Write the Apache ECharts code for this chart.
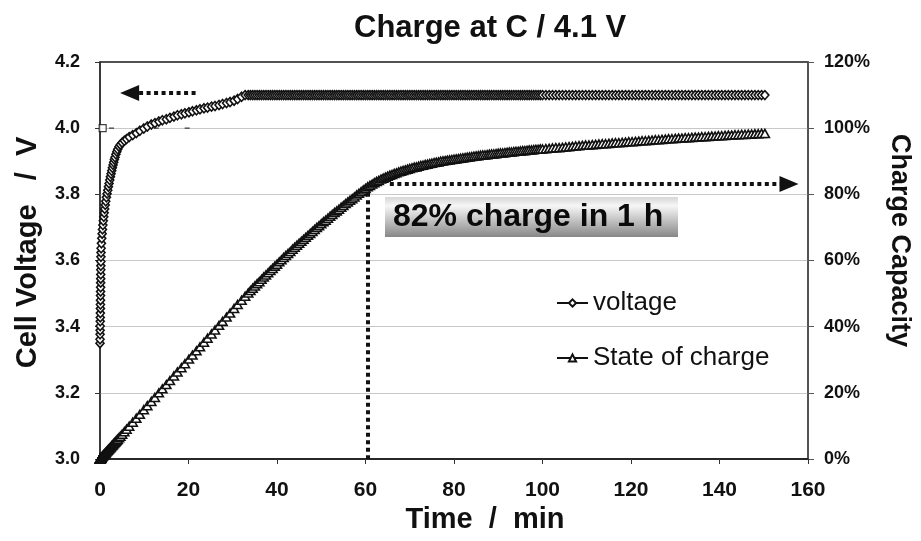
<!DOCTYPE html>
<html>
<head>
<meta charset="utf-8">
<script src="https://cdn.jsdelivr.net/npm/echarts@6/dist/echarts.min.js"></script>
<style>
  html, body { margin: 0; padding: 0; background: #fff; }
  #chart { width: 921px; height: 541px; }
</style>
</head>
<body>
<div id="chart"></div>
<script>
// Constant-current part of the charge: time (min), cell voltage (V), charge capacity (%)
const ccMinutes = [
  0, 0.01, 0.02, 0.03, 0.04, 0.05, 0.06, 0.08, 0.09, 0.10,
  0.11, 0.12, 0.13, 0.14, 0.15, 0.16, 0.17, 0.18, 0.19, 0.20,
  0.21, 0.23,
  0.25, 0.32, 0.40, 0.48, 0.56, 0.65, 0.75, 0.85, 0.95, 1.06,
  1.18, 1.30, 1.45, 1.60, 1.75, 1.90,
  2.05, 2.2, 2.35, 2.5, 2.65, 2.8, 2.95, 3.1, 3.25, 3.4,
  3.6, 3.8, 4.0, 4.3, 4.6, 5.0, 5.5, 6.0, 6.6, 7.4,
  8.2, 9.0, 9.9, 10.7, 11.6, 12.4, 13.3, 14.1, 15.0, 15.8,
  16.7, 17.5, 18.4, 19.2, 20.1, 20.9, 21.8, 22.6, 23.5, 24.3,
  25.2, 26.0, 26.9, 27.7, 28.6, 29.4, 30.3, 31.1, 32.0, 32.8
];
const ccVoltage = [
  3.350, 3.362, 3.377, 3.389, 3.402, 3.416, 3.428, 3.441, 3.455, 3.467,
  3.480, 3.494, 3.506, 3.519, 3.533, 3.545, 3.558, 3.572, 3.584, 3.597,
  3.611, 3.624,
  3.637, 3.652, 3.667, 3.681, 3.694, 3.707, 3.720, 3.732, 3.744, 3.756,
  3.768, 3.779, 3.791, 3.802, 3.812, 3.823,
  3.833, 3.843, 3.853, 3.862, 3.871, 3.880, 3.889, 3.897, 3.905, 3.912,
  3.921, 3.929, 3.936, 3.944, 3.950, 3.956, 3.962, 3.967, 3.973, 3.979,
  3.985, 3.992, 3.999, 4.005, 4.011, 4.015, 4.020, 4.024, 4.027, 4.031,
  4.035, 4.039, 4.042, 4.045, 4.048, 4.051, 4.054, 4.057, 4.060, 4.062,
  4.065, 4.067, 4.070, 4.073, 4.076, 4.079, 4.083, 4.088, 4.095, 4.100
];
const ccCharge = [
  0, 0.02, 0.03, 0.05, 0.06, 0.08, 0.09, 0.12, 0.14, 0.15,
  0.17, 0.18, 0.20, 0.21, 0.23, 0.24, 0.26, 0.27, 0.29, 0.30,
  0.32, 0.35,
  0.38, 0.48, 0.60, 0.72, 0.84, 0.98, 1.12, 1.28, 1.42, 1.59,
  1.77, 1.95, 2.18, 2.40, 2.63, 2.85,
  3.1, 3.3, 3.5, 3.75, 4.0, 4.2, 4.4, 4.65, 4.9, 5.1,
  5.4, 5.7, 6.0, 6.45, 6.9, 7.5, 8.25, 9.0, 9.9, 11.1,
  12.3, 13.5, 14.9, 16.1, 17.4, 18.6, 20.0, 21.2, 22.5, 23.7,
  25.1, 26.3, 27.6, 28.8, 30.2, 31.4, 32.7, 33.9, 35.3, 36.5,
  37.8, 39.0, 40.4, 41.6, 42.9, 44.1, 45.5, 46.7, 48.0, 49.2
];

// Constant-voltage hold at 4.1 V
const cvMinutes = [
  33.5, 34, 34.5, 35, 35.5, 36, 36.5, 37, 37.5, 38,
  38.5, 39, 39.5, 40, 40.5, 41, 41.5, 42, 42.5, 43,
  43.5, 44, 44.5, 45, 45.5, 46, 46.5, 47, 47.5, 48,
  48.5, 49, 49.5, 50, 50.5, 51, 51.5, 52, 52.5, 53,
  53.5, 54, 54.5, 55, 55.5, 56, 56.5, 57, 57.5, 58,
  58.5, 59, 59.5, 60, 60.5, 61, 61.5, 62, 62.5, 63,
  63.5, 64, 64.5, 65, 65.5, 66, 66.5, 67, 67.5, 68,
  68.5, 69, 69.5, 70, 70.5, 71, 71.5, 72, 72.5, 73,
  73.5, 74, 74.5, 75, 75.5, 76, 76.5, 77, 77.5, 78,
  78.5, 79, 79.5, 80, 80.5, 81, 81.5, 82, 82.5, 83,
  83.5, 84, 84.5, 85, 85.5, 86, 86.5, 87, 87.5, 88,
  88.5, 89, 89.5, 90, 90.5, 91, 91.5, 92, 92.5, 93,
  93.5, 94, 94.5, 95, 95.5, 96, 96.5, 97, 97.5, 98,
  98.5, 99, 99.5, 100,
  100.75, 101.5, 102.25, 103, 103.75, 104.5, 105.25, 106, 106.75, 107.5,
  108.25, 109, 109.75, 110.5, 111.25, 112, 112.75, 113.5, 114.25, 115,
  115.75, 116.5, 117.25, 118, 118.75, 119.5, 120.25, 121, 121.75, 122.5,
  123.25, 124, 124.75, 125.5, 126.25, 127, 127.75, 128.5, 129.25, 130,
  130.75, 131.5, 132.25, 133, 133.75, 134.5, 135.25, 136, 136.75, 137.5,
  138.25, 139, 139.75, 140.5, 141.25, 142, 142.75, 143.5, 144.25, 145,
  145.75, 146.5, 147.25, 148, 148.75, 149.5, 150.25
];
const cvVoltage = [
  4.1, 4.1, 4.1, 4.1, 4.1, 4.1, 4.1, 4.1, 4.1, 4.1,
  4.1, 4.1, 4.1, 4.1, 4.1, 4.1, 4.1, 4.1, 4.1, 4.1,
  4.1, 4.1, 4.1, 4.1, 4.1, 4.1, 4.1, 4.1, 4.1, 4.1,
  4.1, 4.1, 4.1, 4.1, 4.1, 4.1, 4.1, 4.1, 4.1, 4.1,
  4.1, 4.1, 4.1, 4.1, 4.1, 4.1, 4.1, 4.1, 4.1, 4.1,
  4.1, 4.1, 4.1, 4.1, 4.1, 4.1, 4.1, 4.1, 4.1, 4.1,
  4.1, 4.1, 4.1, 4.1, 4.1, 4.1, 4.1, 4.1, 4.1, 4.1,
  4.1, 4.1, 4.1, 4.1, 4.1, 4.1, 4.1, 4.1, 4.1, 4.1,
  4.1, 4.1, 4.1, 4.1, 4.1, 4.1, 4.1, 4.1, 4.1, 4.1,
  4.1, 4.1, 4.1, 4.1, 4.1, 4.1, 4.1, 4.1, 4.1, 4.1,
  4.1, 4.1, 4.1, 4.1, 4.1, 4.1, 4.1, 4.1, 4.1, 4.1,
  4.1, 4.1, 4.1, 4.1, 4.1, 4.1, 4.1, 4.1, 4.1, 4.1,
  4.1, 4.1, 4.1, 4.1, 4.1, 4.1, 4.1, 4.1, 4.1, 4.1,
  4.1, 4.1, 4.1, 4.1,
  4.1, 4.1, 4.1, 4.1, 4.1, 4.1, 4.1, 4.1, 4.1, 4.1,
  4.1, 4.1, 4.1, 4.1, 4.1, 4.1, 4.1, 4.1, 4.1, 4.1,
  4.1, 4.1, 4.1, 4.1, 4.1, 4.1, 4.1, 4.1, 4.1, 4.1,
  4.1, 4.1, 4.1, 4.1, 4.1, 4.1, 4.1, 4.1, 4.1, 4.1,
  4.1, 4.1, 4.1, 4.1, 4.1, 4.1, 4.1, 4.1, 4.1, 4.1,
  4.1, 4.1, 4.1, 4.1, 4.1, 4.1, 4.1, 4.1, 4.1, 4.1,
  4.1, 4.1, 4.1, 4.1, 4.1, 4.1, 4.1
];
const cvCharge = [
  50.2, 50.9, 51.6, 52.3, 53.0, 53.6, 54.3, 55.0, 55.6, 56.3,
  57.0, 57.6, 58.3, 58.9, 59.6, 60.2, 60.9, 61.5, 62.1, 62.7,
  63.4, 64.0, 64.6, 65.2, 65.8, 66.4, 67.0, 67.6, 68.2, 68.8,
  69.4, 70.0, 70.5, 71.1, 71.7, 72.2, 72.8, 73.4, 73.9, 74.5,
  75.0, 75.5, 76.1, 76.6, 77.2, 77.7, 78.2, 78.7, 79.2, 79.8,
  80.3, 80.8, 81.3, 81.8, 82.3, 82.7, 83.1, 83.5, 83.9, 84.2,
  84.6, 84.9, 85.2, 85.5, 85.8, 86.0, 86.3, 86.5, 86.8, 87.0,
  87.2, 87.4, 87.6, 87.8, 88.0, 88.2, 88.3, 88.5, 88.7, 88.8,
  89.0, 89.1, 89.3, 89.4, 89.6, 89.7, 89.8, 90.0, 90.1, 90.2,
  90.3, 90.4, 90.5, 90.6, 90.7, 90.8, 90.9, 91.0, 91.1, 91.2,
  91.3, 91.4, 91.5, 91.6, 91.7, 91.8, 91.9, 91.9, 92.0, 92.1,
  92.2, 92.2, 92.3, 92.4, 92.5, 92.5, 92.6, 92.7, 92.8, 92.8,
  92.9, 93.0, 93.0, 93.1, 93.2, 93.2, 93.3, 93.4, 93.4, 93.5,
  93.6, 93.6, 93.7, 93.7,
  93.8, 93.9, 94.0, 94.1, 94.1, 94.2, 94.3, 94.4, 94.5, 94.6,
  94.7, 94.8, 94.9, 94.9, 95.0, 95.1, 95.2, 95.3, 95.3, 95.4,
  95.5, 95.6, 95.6, 95.7, 95.8, 95.9, 95.9, 96.0, 96.1, 96.2,
  96.2, 96.3, 96.4, 96.5, 96.5, 96.6, 96.7, 96.8, 96.8, 96.9,
  97.0, 97.0, 97.1, 97.1, 97.2, 97.3, 97.3, 97.4, 97.4, 97.5,
  97.6, 97.6, 97.7, 97.7, 97.8, 97.9, 97.9, 98.0, 98.0, 98.1,
  98.1, 98.2, 98.2, 98.3, 98.3, 98.4, 98.4
];

// Stray markers sitting on the 4.0 V line near the start
const squareMarkMinutes = [0.6];
const squareMarkVolts = [4.0];
const dashMarkMinutes = [2.6, 12.7, 19.7];
const dashMarkVolts = [4.0, 4.0, 4.0];

// Axis ranges and ticks
const timeTicks = { min: 0, max: 160, step: 20 };
const voltTicks = { min: 3.0, max: 4.2, step: 0.2 };
const chargeTicks = { min: 0, max: 120, step: 20 };

// Annotation values
const oneHourMinutes = 60.4;
const oneHourCharge = 82;
const voltArrowLevel = 4.106;

const minutes = ccMinutes.concat(cvMinutes);
const voltage = ccVoltage.concat(cvVoltage);
const charge = ccCharge.concat(cvCharge);

const voltageData = minutes.map((t, i) => [t, voltage[i]]);
const chargeData = minutes.map((t, i) => [t, charge[i]]);

const FONT = "'Liberation Sans', Arial, Helvetica, sans-serif";
const INK = '#111';

const chart = echarts.init(document.getElementById('chart'), null, { renderer: 'canvas' });

// thick square-dotted leader lines with a filled arrow head
const dotted = { color: INK, width: 4, type: [4, 3.5], cap: 'butt' };
const arrowHead = { symbol: 'triangle', symbolSize: [16, 19] };

chart.setOption({
  animation: false,
  backgroundColor: '#fff',
  textStyle: { fontFamily: FONT, color: INK },
  title: {
    text: 'Charge at C / 4.1 V',
    left: 349,
    top: 8,
    textStyle: { fontFamily: FONT, fontSize: 31, fontWeight: 'bold', color: INK }
  },
  grid: {
    left: 100, right: 104, top: 62, bottom: 82,
    show: true, borderColor: '#1a1a1a', borderWidth: 1.5, backgroundColor: 'transparent'
  },
  legend: {
    data: ['voltage', 'State of charge'],
    orient: 'vertical',
    left: 551,
    top: 285,
    itemGap: 29,
    itemWidth: 31,
    itemHeight: 9,
    selectedMode: false,
    textStyle: { fontFamily: FONT, fontSize: 26, color: INK, padding: [0, 0, 0, 0] }
  },
  xAxis: {
    type: 'value',
    min: timeTicks.min, max: timeTicks.max, interval: timeTicks.step,
    name: 'Time  /  min',
    nameLocation: 'middle',
    nameGap: 43,
    nameTextStyle: { fontFamily: FONT, fontSize: 29, fontWeight: 'bold', color: INK, padding: [0, 0, 0, 62] },
    axisLine: { lineStyle: { color: '#1a1a1a', width: 1.5 } },
    axisTick: { show: true, inside: false, length: 5, lineStyle: { color: '#333' } },
    axisLabel: { fontFamily: FONT, fontSize: 21, fontWeight: 'bold', color: INK, margin: 21 },
    splitLine: { show: false }
  },
  yAxis: [
    {
      type: 'value',
      position: 'left',
      min: voltTicks.min, max: voltTicks.max, interval: voltTicks.step,
      name: 'Cell Voltage   /  V',
      nameLocation: 'middle',
      nameGap: 58,
      nameTextStyle: { fontFamily: FONT, fontSize: 29, fontWeight: 'bold', color: INK, padding: [0, 0, 0, 16] },
      axisLine: { show: true, lineStyle: { color: '#333', width: 1.5 } },
      axisTick: { show: true, inside: false, length: 5, lineStyle: { color: '#333' } },
      axisLabel: {
        fontFamily: FONT, fontSize: 18, fontWeight: 'bold', color: INK, margin: 20,
        formatter: v => v.toFixed(1)
      },
      splitLine: { show: true, showMinLine: false, showMaxLine: false, lineStyle: { color: '#c8c8c8', width: 1 } }
    },
    {
      type: 'value',
      position: 'right',
      min: chargeTicks.min, max: chargeTicks.max, interval: chargeTicks.step,
      name: 'Charge Capacity',
      nameLocation: 'middle',
      nameRotate: -90,
      nameGap: 78,
      nameTextStyle: { fontFamily: FONT, fontSize: 27, fontWeight: 'bold', color: INK, padding: [0, 40, 0, 0] },
      axisLine: { show: true, lineStyle: { color: '#555', width: 1.5 } },
      axisTick: { show: true, inside: false, length: 6, lineStyle: { color: '#555' } },
      axisLabel: { fontFamily: FONT, fontSize: 18, fontWeight: 'bold', color: INK, margin: 16, formatter: '{value}%' },
      splitLine: { show: false }
    }
  ],
  series: [
    {
      name: 'voltage',
      type: 'line',
      yAxisIndex: 0,
      data: voltageData,
      symbol: 'diamond',
      symbolSize: [8, 9],
      showSymbol: true,
      showAllSymbol: true,
      itemStyle: { color: '#fff', borderColor: INK, borderWidth: 1.6 },
      lineStyle: { color: INK, width: 1 },
      emphasis: { disabled: true },
      z: 3,
      markLine: {
        silent: true,
        symbol: ['none', 'none'],
        label: { show: false },
        lineStyle: dotted,
        emphasis: { disabled: true },
        data: [
          [
            { coord: [21.6, voltArrowLevel] },
            Object.assign({ coord: [6.7, voltArrowLevel] }, arrowHead)
          ]
        ]
      }
    },
    {
      name: 'State of charge',
      type: 'line',
      yAxisIndex: 1,
      data: chargeData,
      symbol: 'triangle',
      symbolSize: [9, 8],
      showSymbol: true,
      showAllSymbol: true,
      itemStyle: { color: '#fff', borderColor: INK, borderWidth: 1.6 },
      lineStyle: { color: INK, width: 1 },
      emphasis: { disabled: true },
      z: 3,
      markLine: {
        silent: true,
        symbol: ['none', 'none'],
        label: { show: false },
        lineStyle: dotted,
        emphasis: { disabled: true },
        data: [
          [
            { coord: [65.5, oneHourCharge + 1.1] },
            Object.assign({ coord: [155.7, oneHourCharge + 1.1] }, arrowHead)
          ],
          [
            { coord: [oneHourMinutes, oneHourCharge - 1.5] },
            { coord: [oneHourMinutes, 0] }
          ]
        ]
      }
    },
    {
      name: 'square marks',
      type: 'scatter',
      yAxisIndex: 0,
      data: squareMarkMinutes.map((t, i) => [t, squareMarkVolts[i]]),
      symbol: 'rect',
      symbolSize: 7,
      itemStyle: { color: '#fff', borderColor: INK, borderWidth: 1.2 },
      emphasis: { disabled: true },
      z: 4
    },
    {
      name: 'dash marks',
      type: 'scatter',
      yAxisIndex: 0,
      data: dashMarkMinutes.map((t, i) => [t, dashMarkVolts[i]]),
      symbol: 'rect',
      symbolSize: [5, 1.5],
      itemStyle: { color: '#333' },
      emphasis: { disabled: true },
      z: 4
    }
  ],
  graphic: [
    {
      type: 'group',
      left: 385,
      top: 197,
      silent: true,
      z: 10,
      children: [
        {
          type: 'rect',
          shape: { x: 0, y: 0, width: 293, height: 40 },
          style: {
            fill: new echarts.graphic.LinearGradient(0, 0, 0, 1, [
              { offset: 0, color: '#d6d6d6' },
              { offset: 0.22, color: '#f6f6f6' },
              { offset: 1, color: '#878787' }
            ])
          }
        },
        {
          type: 'text',
          x: 8,
          y: 20,
          style: {
            text: '82% charge in 1 h',
            font: "bold 32px 'Liberation Sans', Arial, sans-serif",
            fill: '#0a0a0a',
            verticalAlign: 'middle',
            textVerticalAlign: 'middle'
          }
        }
      ]
    }
  ]
});
</script>
</body>
</html>
